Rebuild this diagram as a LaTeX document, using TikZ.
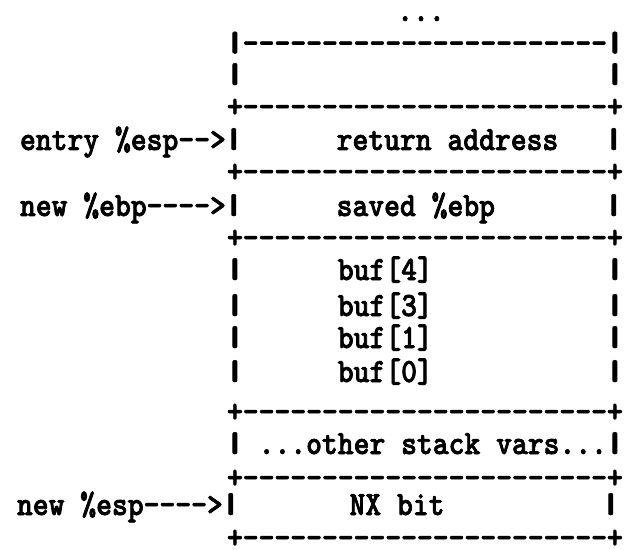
\documentclass[tikz,border=0pt]{standalone}
\usepackage{fontspec}
\usepackage{graphicx}
\setmonofont[FakeStretch=0.887,FakeBold=2]{Latin Modern Mono Light}
\newcommand\gap[1]{\kern#1\fontcharwd\font`x\relax}
\newcommand\vb{\makebox[\fontcharwd\font`x]{\resizebox{1.5\width}{0.64em}{\raisebox{\depth}{|}}}}
\begin{document}
\begin{tikzpicture}[x=0.5pt,y=-0.5pt,
  row/.style={anchor=base west,inner sep=0pt,outer sep=0pt,
    font=\fontsize{17}{17}\selectfont\ttfamily\bfseries}]
\useasboundingbox[fill=white] (0,0) rectangle (625,550);
\node[row,anchor=base] (dots) at (421,21) {...};
\node[row] (r1)  at (227,53.5) {\vb-----------------------\vb};
\node[row] (r2)  at (227,85)   {\vb\gap{23}\vb};
\node[row] (r3)  at (227,117)  {+-----------------------+};
\node[row] (r4)  at (20,150)   {entry \%esp-->\vb\gap{6}return address\gap{3}\vb};
\node[row] (r5)  at (227,182)  {+-----------------------+};
\node[row] (r6)  at (20,216)   {new \%ebp---->\vb\gap{6}saved \%ebp\gap{7}\vb};
\node[row] (r7)  at (227,248)  {+-----------------------+};
\node[row] (r8)  at (227,280)  {\vb\gap{6}buf[4]\gap{11}\vb};
\node[row] (r9)  at (227,316)  {\vb\gap{6}buf[3]\gap{11}\vb};
\node[row] (r10) at (227,348)  {\vb\gap{6}buf[1]\gap{11}\vb};
\node[row] (r11) at (227,382)  {\vb\gap{6}buf[0]\gap{11}\vb};
\node[row] (r12) at (227,422)  {+-----------------------+};
\node[row] (r13) at (227,454)  {\vb{} ...other stack vars...\vb};
\node[row] (r14) at (227,488)  {+-----------------------+};
\node[row] (r15) at (17,515)   {new \%esp---->\vb\gap{7}NX bit\gap{10}\vb};
\node[row] (r16) at (227,548)  {+-----------------------+};
\end{tikzpicture}
\end{document}
